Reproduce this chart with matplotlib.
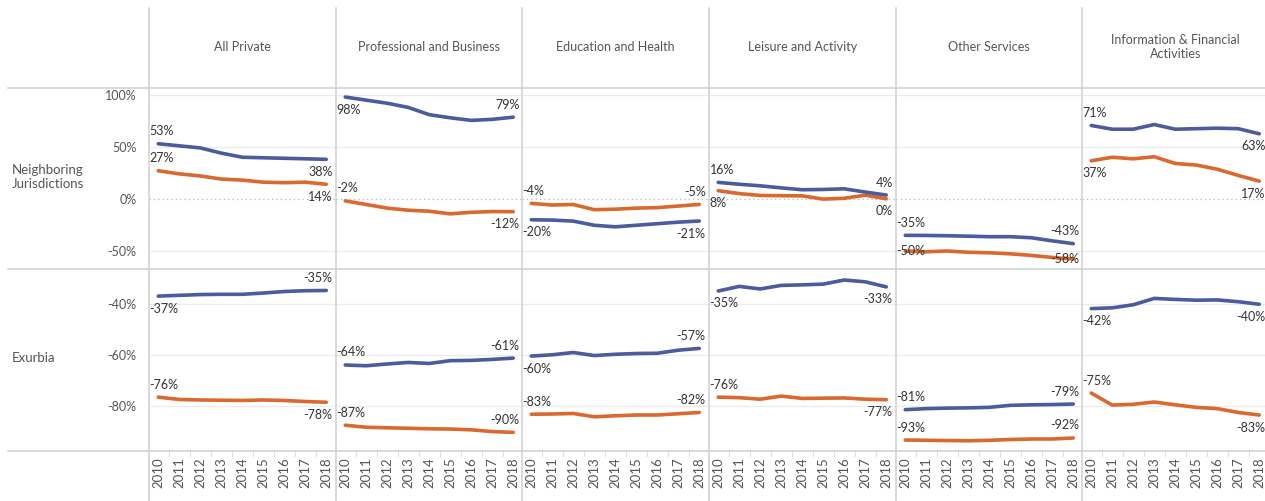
import matplotlib
matplotlib.use("Agg")
import matplotlib.pyplot as plt
from matplotlib.lines import Line2D

plt.rcParams['font.family'] = ['Lato', 'DejaVu Sans']

years = [2010, 2011, 2012, 2013, 2014, 2015, 2016, 2017, 2018]
categories = ["All Private", "Professional and Business", "Education and Health",
              "Leisure and Activity", "Other Services", "Information & Financial\nActivities"]
rows = ["Neighboring\nJurisdictions", "Exurbia"]

# Neighboring Jurisdictions (values in %)
nj_blue = [
    [53, 51, 49, 44, 40, 39.5, 39, 38.5, 38],
    [98, 95, 92, 88, 81, 78, 75.5, 76.5, 78.6],
    [-20.2, -20.5, -21.5, -25.5, -27, -25.5, -24, -22.5, -21.4],
    [15.8, 14, 12.5, 10.5, 8.7, 9, 9.6, 6.5, 3.6],
    [-35.2, -35.3, -35.6, -36, -36.5, -36.5, -37.5, -40.5, -43.2],
    [70.6, 67, 67, 71.5, 67, 67.5, 68, 67.5, 62.6],
]
nj_orange = [
    [27, 24, 22, 19, 18, 16, 15.5, 16, 14],
    [-2, -5.5, -9, -11, -12, -14.5, -13, -12.3, -12.4],
    [-4.4, -6, -5.5, -10.5, -10, -9, -8.5, -7, -5.4],
    [7.8, 5, 3.2, 3, 2.8, -0.3, 0.5, 3.5, 0],
    [-50.4, -51, -50.3, -51.5, -52, -53, -54.5, -56.5, -58],
    [36.6, 40, 38.5, 40.5, 34, 32.5, 28.5, 22.5, 17],
]
# Exurbia (values in %)
ex_blue = [
    [-36.8, -36.5, -36.2, -36.1, -36.1, -35.6, -35, -34.7, -34.6],
    [-63.8, -64.1, -63.4, -62.8, -63.2, -62.1, -62, -61.6, -61.1],
    [-60.3, -59.8, -58.9, -60.1, -59.6, -59.3, -59.2, -58, -57.3],
    [-34.8, -33, -34, -32.6, -32.4, -32.1, -30.5, -31.2, -33.2],
    [-81.3, -80.9, -80.7, -80.6, -80.4, -79.6, -79.4, -79.3, -79.1],
    [-41.7, -41.4, -40.2, -37.7, -38.1, -38.4, -38.3, -39, -40],
]
ex_orange = [
    [-76.4, -77.3, -77.5, -77.6, -77.7, -77.5, -77.7, -78.1, -78.4],
    [-87.4, -88.2, -88.4, -88.6, -88.8, -88.9, -89.2, -89.9, -90.2],
    [-83.1, -83, -82.8, -84.1, -83.7, -83.4, -83.4, -82.9, -82.4],
    [-76.4, -76.6, -77.2, -76, -76.9, -76.8, -76.7, -77.2, -77.4],
    [-93.2, -93.3, -93.4, -93.5, -93.3, -93, -92.8, -92.8, -92.4],
    [-74.8, -79.5, -79.2, -78.3, -79.4, -80.4, -80.9, -82.4, -83.4],
]
row1_ticks = [-50, 0, 50, 100]
row2_ticks = [-80, -60, -40]

# label placement: +1 above, -1 below, 0 on the line  (start, end)
nj_blue_pos = [(1, -1), (-1, 1), (-1, -1), (1, 1), (1, 1), (1, -1)]
nj_orange_pos = [(1, -1), (1, -1), (1, 1), (-1, -1), (0, 0), (-1, -1)]
ex_blue_pos = [(-1, 1), (1, 1), (-1, 1), (-1, -1), (1, 1), (-1, -1)]
ex_orange_pos = [(1, -1), (1, 1), (1, 1), (1, -1), (1, 1), (1, -1)]

BLUE = "#4b5b9b"
ORANGE = "#d9692f"
GRID = "#ececec"
SEP = "#d0d0d0"
TXT = "#555555"
LBL = "#333333"

W, H = 1265, 501
fig = plt.figure(figsize=(W / 100, H / 100), dpi=100)

def fx(x):
    return x / W

def fy(y):
    return 1 - y / H

col_left = [149, 336, 522, 709, 896, 1082]
col_w = 186.5
row_top = [88.3, 269.3]
row_bot = [269.3, 451]
ylims = [(-67.9, 106.4), (-97.5, -26.3)]
margin_years = (col_w - 168) / 2 / 21

for r in range(2):
    blues = nj_blue if r == 0 else ex_blue
    oranges = nj_orange if r == 0 else ex_orange
    bpos = nj_blue_pos if r == 0 else ex_blue_pos
    opos = nj_orange_pos if r == 0 else ex_orange_pos
    ticks = row1_ticks if r == 0 else row2_ticks
    for c in range(6):
        ax = fig.add_axes([fx(col_left[c]), fy(row_bot[r]), col_w / W,
                           (row_bot[r] - row_top[r]) / H])
        ax.set_xlim(years[0] - margin_years, years[-1] + margin_years)
        ax.set_ylim(*ylims[r])
        for s in ax.spines.values():
            s.set_visible(False)
        ax.set_xticks([])
        ax.set_yticks(ticks)
        ax.tick_params(axis='y', length=0, pad=9, labelsize=9, labelcolor=TXT)
        if c == 0:
            ax.set_yticklabels([f"{t}%" for t in ticks])
        else:
            ax.set_yticklabels([])
        for t in ticks:
            if t == 0:
                ax.axhline(0, color="#b5b5b5", lw=0.9, ls=(0, (1, 2.5)), zorder=1)
            else:
                ax.axhline(t, color=GRID, lw=1.0, zorder=1)
        for vals, pos, col in ((oranges[c], opos[c], ORANGE), (blues[c], bpos[c], BLUE)):
            ax.plot(years, vals, color=col, lw=2.6, solid_capstyle='round', zorder=3)
            for idx, p, xa, ha in ((0, pos[0], 0.004, 'left'), (-1, pos[1], 0.985, 'right')):
                dy = 9 * p
                ax.annotate(f"{round(vals[idx]):.0f}%", xy=(xa, vals[idx]),
                            xycoords=('axes fraction', 'data'),
                            xytext=(0, dy), textcoords='offset points',
                            ha=ha, va='center', fontsize=9, color=LBL, zorder=4,
                            annotation_clip=False)
        if r == 1:
            for y in years:
                ax.text(y, -0.035, str(y), transform=ax.get_xaxis_transform(),
                        rotation=90, ha='center', va='top', fontsize=9.5,
                        color=TXT)
            for k in range(len(years) - 1):
                xm = (years[k] + years[k + 1]) / 2
                ax.plot([xm, xm], [0, -0.03], transform=ax.get_xaxis_transform(),
                        color="#e0e0e0", lw=0.8, clip_on=False)

# headers
for c in range(6):
    fig.text(fx(col_left[c] + col_w / 2), fy(47), categories[c], ha='center',
             va='center', fontsize=9, color=TXT, linespacing=1.15)
# row labels
fig.text(fx(12), fy(177), rows[0], ha='left', va='center', fontsize=9.5,
         color=TXT, linespacing=1.1)
fig.text(fx(12), fy(358), rows[1], ha='left', va='center', fontsize=9.5,
         color=TXT)

# separators
for x in col_left:
    fig.add_artist(Line2D([fx(x), fx(x)], [fy(8), fy(501)], color=SEP, lw=1.1))
for y in (88.3, 269.3, 451):
    fig.add_artist(Line2D([fx(8), fx(1265)], [fy(y), fy(y)], color=SEP, lw=1.1))

fig.savefig("out.png", dpi=100)
